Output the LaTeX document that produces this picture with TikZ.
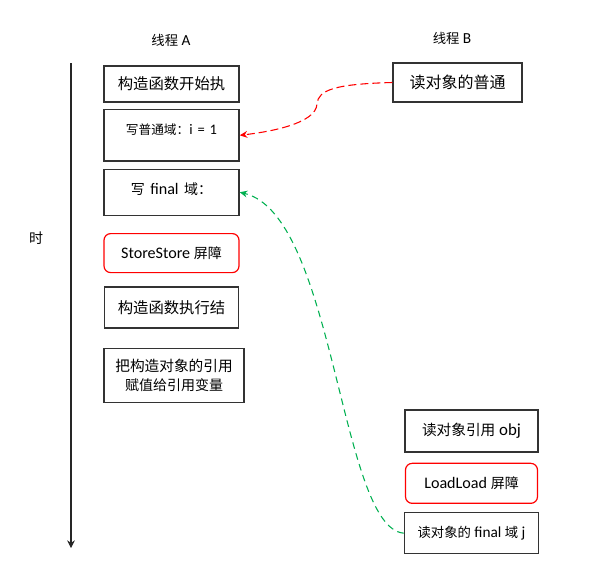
\documentclass[tikz,border=0pt]{standalone}
\usepackage{fontspec}
\setmainfont{Carlito}[Scale=1.15]
\newfontfamily\zhfont{Noto Sans CJK SC}
\newcommand{\zh}[1]{{\zhfont #1}}
\definecolor{greenline}{HTML}{00B050}
\definecolor{redline}{HTML}{FF0000}
\usetikzlibrary{arrows.meta,positioning}
\newcommand{\fs}[1]{\fontsize{#1}{#1pt}\selectfont}

\begin{document}
\begin{tikzpicture}[x=0.75pt,y=-0.75pt,
  box/.style={draw=black!80,line width=1.1pt,align=center,inner sep=0pt},
  barrier/.style={draw=redline,line width=0.9pt,rounded corners=5pt,align=center,inner sep=0pt},
  arr/.style={-{Stealth[length=2mm,width=1.8mm]},line width=0.8pt}]
\useasboundingbox (0,0) rectangle (607,564);
% titles and time axis
\node[font=\fs{10}] (ta) at (171,40) {\zh{线程} A};
\node[font=\fs{10}] (tb) at (452,38) {\zh{线程} B};
\node[font=\fs{10.5}] (time) at (36,238) {\zh{时}};
\coordinate (t0) at (71,63);
\coordinate (t1) at (71,548);
\draw[-{Stealth[length=2mm,width=2mm]},line width=0.8pt,black!85] (t0) -- (t1);
% thread A
\node[box,font=\fs{11.5},minimum width=101.25pt,minimum height=27pt] (a1) at (171.5,84) {\zh{构造函数开始执}};
\node[box,font=\fs{9.5},text width=101.25pt,text height=18.75pt,text depth=20pt,below=4.5pt of a1] (a2) {\zh{写普通域：}i = 1};
\node[box,font=\fs{10.5},text width=101.25pt,text height=19pt,text depth=15.5pt,below=5pt of a2] (a3) {\zh{写} final \zh{域：}};
\node[barrier,font=\fs{10.5},minimum width=101.25pt,minimum height=29.25pt,below=12.75pt of a3] (a4) {StoreStore \zh{屏障}};
\node[box,font=\fs{11.5},minimum width=100.5pt,minimum height=30.75pt,below=9.75pt of a4] (a5) {\zh{构造函数执行结}};
\node[box,minimum width=105pt,minimum height=40.5pt,below=14.25pt of a5,xshift=1.9pt] (a6) {{\fs{11}\zh{把构造对象的引用}}\\[2.5pt]{\fs{10.5}\zh{赋值给引用变量}}};
% thread B
\node[box,font=\fs{12},minimum width=96.75pt,minimum height=29.25pt] (b1) at (457.5,82.5) {\zh{读对象的普通}};
\node[box,font=\fs{11},minimum width=99.75pt,minimum height=31.5pt] (b2) at (471.5,431) {\zh{读对象引用} obj};
\node[barrier,font=\fs{10.5},minimum width=99pt,minimum height=30pt,below=7.5pt of b2] (b3) {LoadLoad \zh{屏障}};
\node[box,font=\fs{10},minimum width=100.5pt,minimum height=30.75pt,below=6pt of b3] (b4) {\zh{读对象的} final \zh{域} j};
% reads
\draw[arr,redline,dash pattern=on 6pt off 3pt] (b1.west) .. controls (335,84) and (318,90) .. (317,104) .. controls (316,124) and (268,132) .. (a2.east);
\draw[arr,greenline,dash pattern=on 5pt off 3.5pt] (b4.west) .. controls (340,528) and (335,215) .. (a3.east);
\end{tikzpicture}
\end{document}
